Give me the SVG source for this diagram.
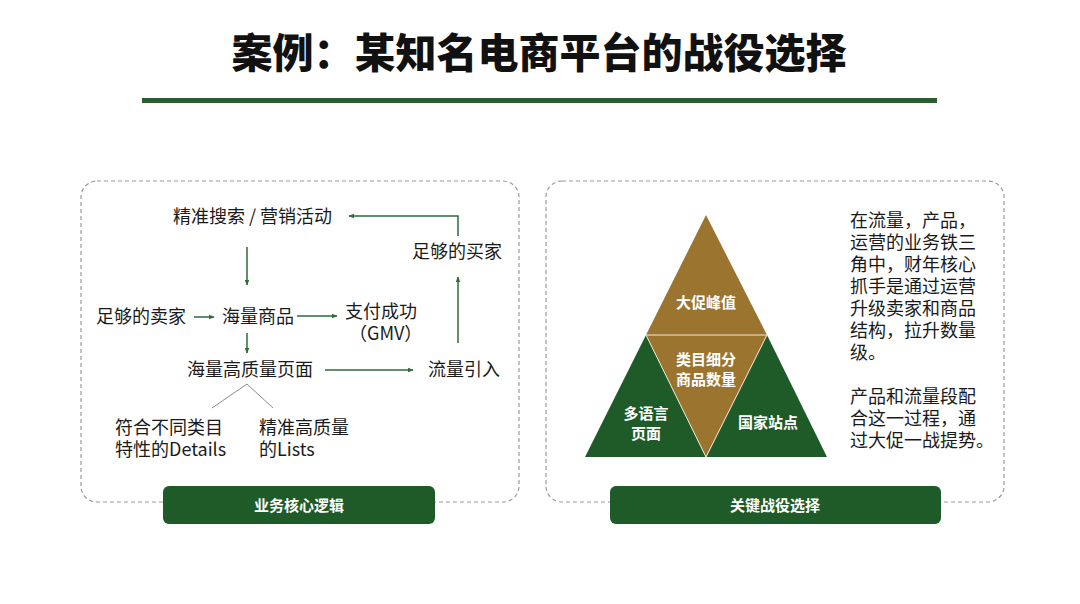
<svg xmlns="http://www.w3.org/2000/svg" width="1080" height="604" viewBox="0 0 1080 604">
<defs>
<style>
.t{font-family:"Noto Sans CJK SC","Liberation Sans",sans-serif;font-size:18px;fill:#1a1a1a}
.w{font-family:"Noto Sans CJK SC","Liberation Sans",sans-serif;font-size:15px;font-weight:700;fill:#ffffff;text-anchor:middle}
.box{fill:none;stroke:#9a9a9a;stroke-width:1.2;stroke-dasharray:4 3}
.bar{fill:#1e5b28}
.c{stroke:#2f6b3b;stroke-width:1.5;fill:none}
.g{stroke:#8a8a8a;stroke-width:1;fill:none}
</style>
<marker id="ah" viewBox="0 0 10 10" refX="9" refY="5" markerWidth="6" markerHeight="6" orient="auto-start-reverse" markerUnits="userSpaceOnUse">
<path d="M0,1 L10,5 L0,9 Z" fill="#2f6b3b"/>
</marker>
</defs>
<rect width="1080" height="604" fill="#ffffff"/>
<g id="title">
<text x="539" y="68" text-anchor="middle" style="font-family:'Noto Sans CJK SC','Liberation Sans',sans-serif;font-size:41px;font-weight:900;fill:#111">案例：某知名电商平台的战役选择</text>
<rect x="142" y="98" width="795" height="5" fill="#2a5e2e"/>
</g>
<g id="left-panel">
<rect class="box" x="81" y="181" width="438" height="321" rx="16"/>
<rect class="bar" x="163" y="486" width="272" height="38" rx="6"/>
<text class="w" x="299" y="511">业务核心逻辑</text>
</g>
<g id="right-panel">
<rect class="box" x="546" y="181" width="458" height="321" rx="16"/>
<rect class="bar" x="610" y="486" width="331" height="38" rx="6"/>
<text class="w" x="775" y="511">关键战役选择</text>
</g>
<g id="n-search"><text class="t" x="173" y="223">精准搜索 / 营销活动</text></g>
<g id="n-buyers"><text class="t" x="412" y="258">足够的买家</text></g>
<g id="n-sellers"><text class="t" x="96" y="323">足够的卖家</text></g>
<g id="n-goods"><text class="t" x="222" y="323">海量商品</text></g>
<g id="n-pay"><text class="t" x="345" y="318">支付成功</text><text class="t" x="349" y="340">（GMV）</text></g>
<g id="n-pages"><text class="t" x="187" y="376">海量高质量页面</text></g>
<g id="n-traffic"><text class="t" x="428" y="376">流量引入</text></g>
<g id="n-details"><text class="t" x="115" y="434">符合不同类目</text><text class="t" x="115" y="456">特性的Details</text></g>
<g id="n-lists"><text class="t" x="259" y="434">精准高质量</text><text class="t" x="259" y="456">的Lists</text></g>
<g id="connectors">
<path class="c" d="M458,236 L458,216 L349,216" marker-end="url(#ah)"/>
<path class="c" d="M247,247 L247,285" marker-end="url(#ah)"/>
<path class="c" d="M194,317 L214,317" marker-end="url(#ah)"/>
<path class="c" d="M297,316 L337,316" marker-end="url(#ah)"/>
<path class="c" d="M247,333 L247,353" marker-end="url(#ah)"/>
<path class="c" d="M325,370 L413,370" marker-end="url(#ah)"/>
<path class="c" d="M458,343 L458,277" marker-end="url(#ah)"/>
<path class="g" d="M247,384 L212,408 M247,384 L273,408"/>
</g>
<g id="pyramid">
<polygon points="706,215 646,335 767,335" fill="#9b7530"/>
<polygon points="646,335 767,335 706,457" fill="#9b7530"/>
<polygon points="646,335 585,457 706,457" fill="#1e5b28"/>
<polygon points="767,335 706,457 827,457" fill="#1e5b28"/>
<path d="M646,335 L767,335 M646,335 L706,457 L767,335" stroke="#f3ead8" stroke-width="1" fill="none"/>
<text class="w" x="706" y="308">大促峰值</text>
<text class="w" x="706" y="365">类目细分</text>
<text class="w" x="706" y="385">商品数量</text>
<text class="w" x="646" y="419">多语言</text>
<text class="w" x="646" y="439">页面</text>
<text class="w" x="768" y="428">国家站点</text>
</g>
<g id="note">
<text class="t" x="850" y="227">在流量，产品，</text>
<text class="t" x="850" y="249">运营的业务铁三</text>
<text class="t" x="850" y="271">角中，财年核心</text>
<text class="t" x="850" y="293">抓手是通过运营</text>
<text class="t" x="850" y="315">升级卖家和商品</text>
<text class="t" x="850" y="337">结构，拉升数量</text>
<text class="t" x="850" y="359">级。</text>
<text class="t" x="850" y="403">产品和流量段配</text>
<text class="t" x="850" y="425">合这一过程，通</text>
<text class="t" x="850" y="447">过大促一战提势。</text>
</g>
</svg>
